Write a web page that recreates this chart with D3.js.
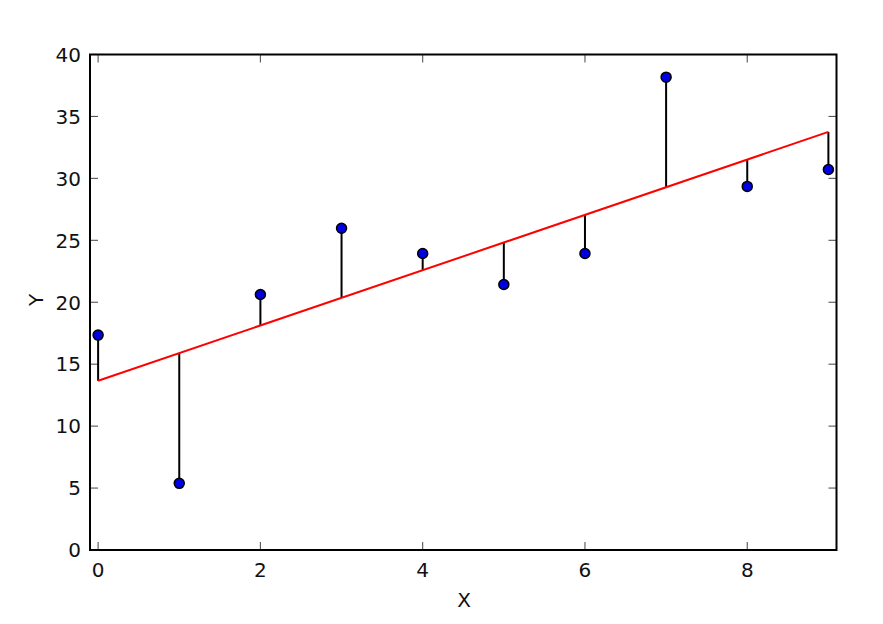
<!DOCTYPE html>
<html><head><meta charset="utf-8">
<script src="https://cdn.jsdelivr.net/npm/d3@7/dist/d3.min.js"></script>
<style>body{margin:0;background:#fff}svg{display:block}text{font-family:"DejaVu Sans",sans-serif}</style>
</head><body>
<svg id="c" width="883" height="624"></svg>
<script>
const xValues = [0,1,2,3,4,5,6,7,8,9];
const yValues = [17.35,5.38,20.63,25.97,23.94,21.43,23.94,38.17,29.35,30.72];
const fitX = [0, 9];
const fitY = [13.66, 33.75];
const xTicks = [0,2,4,6,8];
const yTicks = [0,5,10,15,20,25,30,35,40];

const svg = d3.select("#c");
const L = 90, R = 836.5, T = 54.5, B = 550;
const x = d3.scaleLinear().domain([-0.1, 9.1]).range([L, R]);
const y = d3.scaleLinear().domain([0, 40]).range([B, T]);
const fitScaleY = d3.scaleLinear().domain(fitX).range(fitY);

const tickLen = 8;
const fs = 20;
const g = svg.append("g");
const tg = g.append("g").attr("stroke","#555").attr("stroke-width",1.1);
xTicks.forEach(v=>{
  tg.append("line").attr("x1",x(v)).attr("x2",x(v)).attr("y1",B).attr("y2",B-tickLen);
  tg.append("line").attr("x1",x(v)).attr("x2",x(v)).attr("y1",T).attr("y2",T+tickLen);
});
yTicks.forEach(v=>{
  tg.append("line").attr("y1",y(v)).attr("y2",y(v)).attr("x1",L).attr("x2",L+tickLen);
  tg.append("line").attr("y1",y(v)).attr("y2",y(v)).attr("x1",R).attr("x2",R-tickLen);
});
g.selectAll(".xl").data(xTicks).enter().append("text")
  .attr("x",d=>x(d)).attr("y",B+26.5).attr("text-anchor","middle")
  .attr("font-size",fs).attr("fill","#111").text(d=>d);
g.selectAll(".yl").data(yTicks).enter().append("text")
  .attr("x",L-9).attr("y",d=>y(d)+7.3).attr("text-anchor","end")
  .attr("font-size",fs).attr("fill","#111").text(d=>d);
g.append("text").attr("x",464).attr("y",606.5).attr("text-anchor","middle").attr("font-size",fs).attr("fill","#111").text("X");
g.append("text").attr("transform",`translate(42.5,300) rotate(-90)`).attr("text-anchor","middle").attr("font-size",fs).attr("fill","#111").text("Y");

g.selectAll(".res").data(xValues).enter().append("line")
  .attr("x1",d=>x(d)).attr("x2",d=>x(d))
  .attr("y1",(d,i)=>y(yValues[i])).attr("y2",d=>y(fitScaleY(d)))
  .attr("stroke","#000").attr("stroke-width",2);
g.append("path").datum(fitX.map((d,i)=>[d,fitY[i]]))
  .attr("d",d3.line().x(d=>x(d[0])).y(d=>y(d[1])))
  .attr("fill","none").attr("stroke","#ff0000").attr("stroke-width",2);
g.selectAll(".pt").data(xValues).enter().append("circle")
  .attr("cx",d=>x(d)).attr("cy",(d,i)=>y(yValues[i])).attr("r",5)
  .attr("fill","#0000e0").attr("stroke","#000").attr("stroke-width",1.5);
g.append("rect").attr("x",L).attr("y",T).attr("width",R-L).attr("height",B-T)
  .attr("fill","none").attr("stroke","#000").attr("stroke-width",2);
</script>
</body></html>
